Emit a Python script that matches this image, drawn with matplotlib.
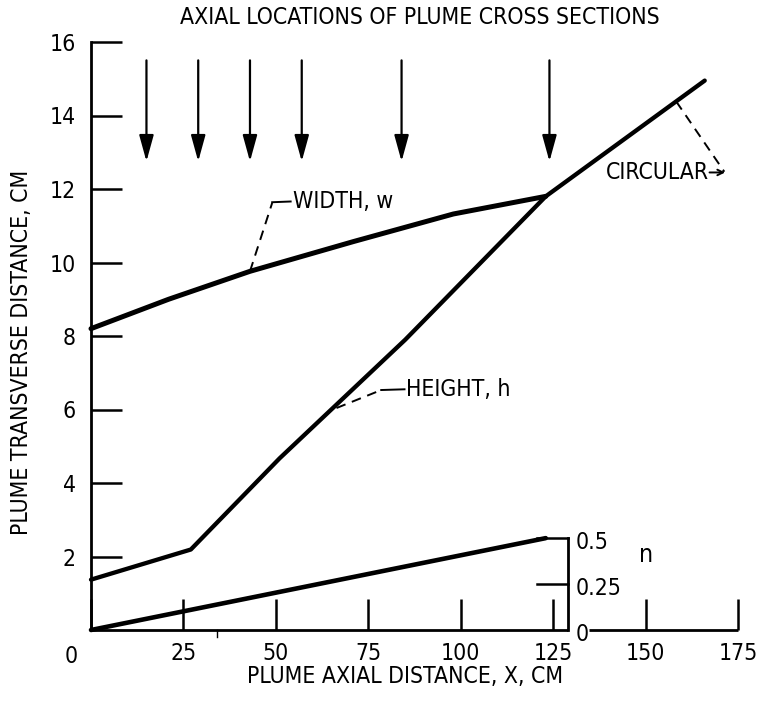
import matplotlib
matplotlib.use('Agg')
import matplotlib.pyplot as plt
from matplotlib.patches import FancyArrowPatch

plt.rcParams['font.family'] = ['DejaVu Sans']
plt.rcParams['font.stretch'] = 'condensed'

# ---- data ----
width_x = [0, 21, 43, 71, 98, 123]
width_y = [8.2, 9.0, 9.76, 10.57, 11.32, 11.8]

height_x = [0, 27, 51, 65, 85, 123, 166]
height_y = [1.37, 2.19, 4.67, 6.0, 7.9, 11.8, 14.95]

n_x = [0, 123]
n_val = [0.0, 0.5]

section_x = [15, 29, 43, 57, 84, 124]

x_ticks = [0, 25, 50, 75, 100, 125, 150, 175]
y_ticks = [2, 4, 6, 8, 10, 12, 14, 16]
n_ticks = [0, 0.25, 0.5]
n_ticklabels = ['0', '0.25', '0.5']

n_axis_x = 129      # x location of the n scale
n_to_y = 5.0        # n = 0.5 plotted at y = 2.5

FS = 16.5

# ---- figure ----
W, H = 759, 702
fig = plt.figure(figsize=(W / 100, H / 100), dpi=100)
ax = fig.add_axes([91 / W, 1 - 630 / H, (738 - 91) / W, (630 - 42) / H])
ax.set_xlim(0, 175)
ax.set_ylim(0, 16)

for s in ['top', 'right', 'bottom']:
    ax.spines[s].set_visible(False)
ax.spines['left'].set_linewidth(2.0)

# ticks (inward, long)
ax.set_xticks(x_ticks)
ax.set_xticklabels([''] + [str(t) for t in x_ticks[1:]])
ax.set_yticks(y_ticks)
ax.set_yticklabels([str(t) for t in y_ticks])
ax.tick_params(axis='both', direction='in', length=22, width=1.8,
               labelsize=FS, color='black')
ax.tick_params(axis='x', pad=9)
ax.tick_params(axis='y', pad=11)
ax.annotate('0', xy=(0, 0), xytext=(-14, -19), textcoords='offset points',
            ha='center', va='center', fontsize=FS, annotation_clip=False)

# bottom axis line, interrupted at the n scale
lw_ax = 2.0
ax.plot([0, n_axis_x], [0, 0], color='black', lw=lw_ax, clip_on=False,
        solid_capstyle='butt')
ax.plot([n_axis_x + 5.7, 175], [0, 0], color='black', lw=lw_ax, clip_on=False,
        solid_capstyle='butt')
ax.plot([34, 34], [0, -0.2], color='black', lw=1.0, clip_on=False)

# n scale
ax.plot([n_axis_x, n_axis_x], [0, n_ticks[-1] * n_to_y], color='black',
        lw=lw_ax, clip_on=False)
for t, lab in zip(n_ticks, n_ticklabels):
    if t > 0:
        ax.plot([n_axis_x - 8.5, n_axis_x], [t * n_to_y, t * n_to_y],
                color='black', lw=1.8, clip_on=False)
    ax.text(n_axis_x + 2.0, t * n_to_y - 0.12, lab, fontsize=FS,
            ha='left', va='center')
ax.text(150, 2.05, 'n', fontsize=18, ha='center', va='center')

# curves
ax.plot(width_x, width_y, color='black', lw=3.6, solid_capstyle='round',
        solid_joinstyle='round', clip_on=False)
ax.plot(height_x, height_y, color='black', lw=3.1, solid_capstyle='round',
        solid_joinstyle='round', clip_on=False)
ax.plot(n_x, [v * n_to_y for v in n_val], color='black', lw=3.3,
        solid_capstyle='round', clip_on=False)

# axial location arrows
for xs in section_x:
    arr = FancyArrowPatch((xs, 15.5), (xs, 12.75),
                          arrowstyle='-|>,head_length=0.8,head_width=0.22',
                          mutation_scale=20, color='black', lw=1.6,
                          shrinkA=0, shrinkB=0)
    ax.add_patch(arr)

# annotations
dash = (0, (5, 3.5))
ax.plot([43, 49], [9.76, 11.62], color='black', lw=1.4, linestyle=dash)
ax.plot([49, 54], [11.64, 11.66], color='black', lw=1.4)
ax.text(54.6, 11.65, 'WIDTH, w', fontsize=FS, ha='left', va='center')

ax.plot([66.4, 78.5], [6.04, 6.53], color='black', lw=1.4, linestyle=dash)
ax.plot([78.5, 84.8], [6.53, 6.55], color='black', lw=1.4)
ax.text(85.2, 6.55, 'HEIGHT, h', fontsize=FS, ha='left', va='center')

ax.plot([158.3, 171.3], [14.38, 12.47], color='black', lw=1.4, linestyle=dash)
ax.annotate('', xy=(171.5, 12.45), xytext=(167.3, 12.45),
            arrowprops=dict(arrowstyle='->,head_length=0.4,head_width=0.2',
                            color='black', lw=1.4, shrinkA=0, shrinkB=0))
ax.text(139.2, 12.45, 'CIRCULAR', fontsize=FS, ha='left', va='center')

# titles / labels
fig.text(419.5 / W, 1 - 18 / H, 'AXIAL LOCATIONS OF PLUME CROSS SECTIONS',
         fontsize=FS, ha='center', va='center')
fig.text(405 / W, 1 - 676 / H, 'PLUME AXIAL DISTANCE, X, CM',
         fontsize=FS, ha='center', va='center')
fig.text(22 / W, 1 - 352 / H, 'PLUME TRANSVERSE DISTANCE, CM',
         fontsize=FS, ha='center', va='center', rotation=90)

fig.savefig('out.png', dpi=100)
